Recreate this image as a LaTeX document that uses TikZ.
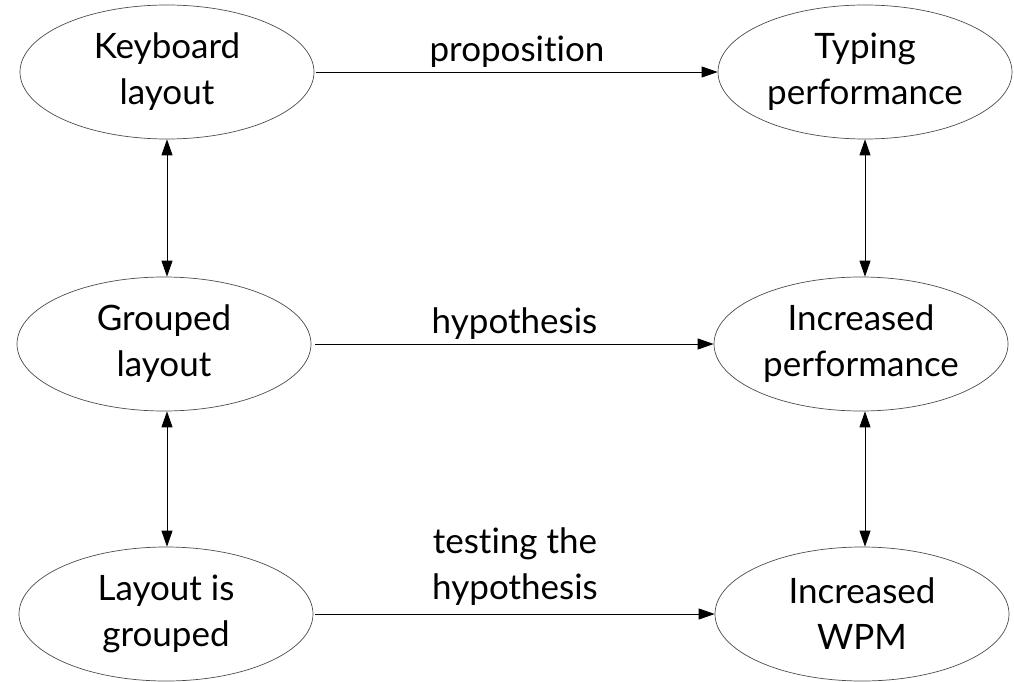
\documentclass[tikz,border=0pt]{standalone}
\usepackage{fontspec}
\setmainfont{Lato}[RawFeature=-liga]
\usetikzlibrary{shapes.geometric,arrows.meta}
\begin{document}
\begin{tikzpicture}[x=1pt,y=-1pt,
  concept/.style={ellipse,draw=black!70,line width=0.7pt,minimum width=294pt,
    minimum height=134pt,inner sep=0pt,align=center,
    font=\fontsize{35}{46}\selectfont},
  link/.style={line width=0.8pt,-{Triangle[length=16pt,width=11pt]}},
  twoway/.style={line width=0.8pt,{Triangle[length=16pt,width=11pt]}-{Triangle[length=16pt,width=11pt]}},
  tag/.style={above=1pt,align=center,font=\fontsize{35}{46}\selectfont}]
\useasboundingbox (0,0) rectangle (1014,682);
% left column
\node[concept] (kb) at (167,72) {Keyboard\\layout};
\node[concept] (gl) at (164,344) {Grouped\\layout};
\node[concept] (lg) at (166,614) {Layout is\\grouped};
% right column
\node[concept] (tp) at (865,72) {Typing\\performance};
\node[concept] (ip) at (861,344) {Increased\\performance};
\node[concept] (iw) at (862,614) {Increased\\WPM};
% horizontal links
\draw[link] (kb.east) ++(2,0) coordinate (kbo) (kbo) -- node[tag] {proposition} (tp.west);
\draw[link] (gl.east) ++(4,0) coordinate (glo) (glo) -- node[tag] {hypothesis} (ip.west);
\draw[link] (lg.east) ++(2,0) coordinate (lgo) (lgo) -- node[tag,above=4pt] {testing the\\hypothesis} (iw.west);
% vertical two-way links
\draw[twoway] (kb.south) -- (kb.south |- gl.north);
\draw[twoway] (gl.south -| kb.south) -- (kb.south |- lg.north);
\draw[twoway] (tp.south) -- (tp.south |- ip.north);
\draw[twoway] (ip.south -| tp.south) -- (tp.south |- iw.north);
\end{tikzpicture}
\end{document}
